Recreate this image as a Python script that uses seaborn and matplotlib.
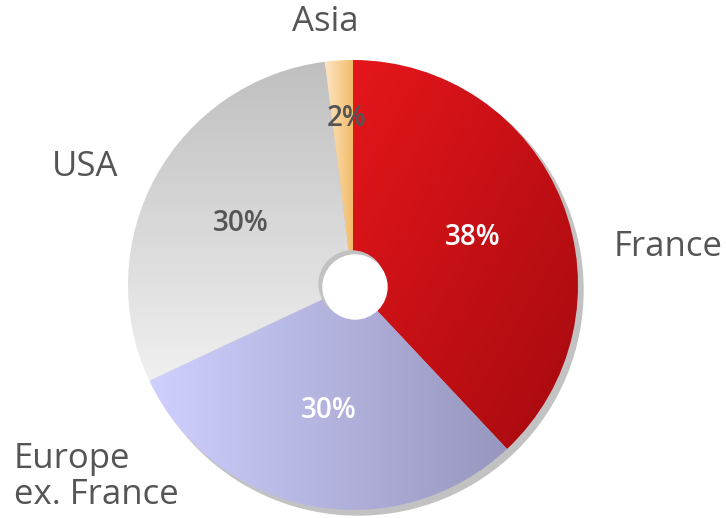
import numpy as np
import matplotlib.pyplot as plt
import seaborn as sns

labels = ['France', 'Europe\nex. France', 'USA', 'Asia']
shares = [38, 30, 30, 2]
pct_colors = ['white', 'white', '#555555', '#555555']

# gradient stops (start, end) and direction for each slice
grad_start = ['#e5161b', '#d0d0ff', '#f0f0f0', '#fde4c4']
grad_end = ['#a50a0f', '#9696be', '#bfbfbf', '#f2bb66']
grad_dir = ['diag', 'h', 'v', 'h']

sns.set_theme(style='white')
plt.rcParams['font.family'] = ['Open Sans', 'DejaVu Sans']

W, H = 726, 518
fig = plt.figure(figsize=(W / 100, H / 100), dpi=100)
ax = fig.add_axes([0, 0, 1, 1])

cx, cy, r = 353, H - 285, 225

# drop shadow behind the pie
ax.add_patch(plt.Circle((cx + 5, cy - 5), r, color='#c2c2c2', zorder=0))

wedges, texts, autotexts = ax.pie(
    shares, startangle=90, counterclock=False, center=(cx, cy), radius=r,
    autopct='%1.0f%%', pctdistance=0.57, labeldistance=None,
    wedgeprops=dict(linewidth=0), frame=True,
    textprops=dict(fontsize=20, fontweight='semibold'))

n = 256
xx, yy = np.meshgrid(np.linspace(0, 1, n), np.linspace(0, 1, n))
for w, c0, c1, d in zip(wedges, grad_start, grad_end, grad_dir):
    w.set_facecolor('none')
    bb = w.get_path().get_extents()
    if d == 'h':
        t = xx
    elif d == 'v':
        t = yy
    else:
        t = (xx + (1 - yy)) / 2
    cmap = sns.blend_palette([c0, c1], n_colors=256, as_cmap=True)
    im = ax.imshow(t, cmap=cmap, origin='lower', vmin=0, vmax=1,
                   extent=[bb.x0, bb.x1, bb.y0, bb.y1], zorder=1,
                   interpolation='bilinear')
    im.set_clip_path(w)

for t, col in zip(autotexts, pct_colors):
    t.set_color(col)
    t.set_zorder(5)
# the thin Asia slice has its label further out
th = np.deg2rad((wedges[3].theta1 + wedges[3].theta2) / 2)
autotexts[3].set_position((cx + 0.74 * r * np.cos(th) + 4, cy + 0.74 * r * np.sin(th)))

# hole in the middle with inner shadow
ax.add_patch(plt.Circle((cx - 1, cy + 1), 33, color='#c2c2c2', zorder=3))
ax.add_patch(plt.Circle((cx + 2, cy - 2), 32, color='white', zorder=4))

lab_kw = dict(fontsize=25, color='#555555', family=['Open Sans', 'DejaVu Sans'])
ax.text(668, H - 247, labels[0], ha='center', va='center', **lab_kw)
ax.text(14, H - 477, labels[1], ha='left', va='center', linespacing=1.1, **lab_kw)
ax.text(85, H - 167, labels[2], ha='center', va='center', **lab_kw)
ax.text(325, H - 22, labels[3], ha='center', va='center', **lab_kw)

ax.set_xlim(0, W)
ax.set_ylim(0, H)
ax.set_aspect('equal')
ax.axis('off')

fig.savefig('out.png', dpi=100, facecolor='white')
